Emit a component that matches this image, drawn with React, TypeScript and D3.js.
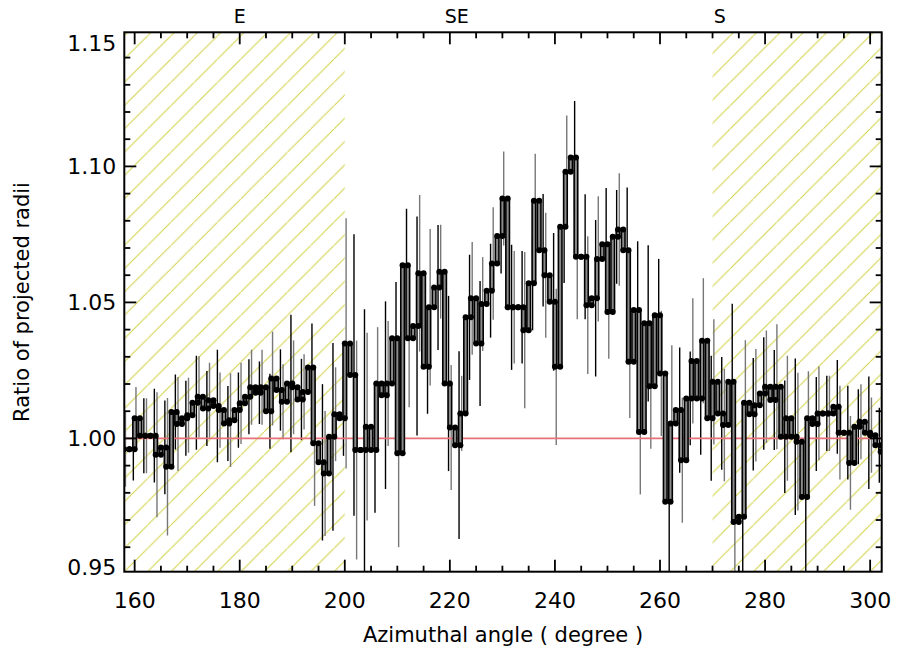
import React, { useEffect, useRef } from 'react';
import * as d3 from 'd3';

// ratio per 1-degree azimuth bin, starting at 158 deg
const binStart = 158;
const ratios = [
  0.996, 0.996, 1.0074, 1.001, 1.001, 1.001, 0.994, 0.9967, 0.9896, 1.0097, 1.0053, 1.0074,
  1.0085, 1.0131, 1.0153, 1.011, 1.014, 1.0119, 1.0104, 1.0055, 1.0067, 1.0104, 1.0129, 1.0153,
  1.0188, 1.0168, 1.0188, 1.01, 1.022, 1.0178, 1.0135, 1.0202, 1.0188, 1.0143, 1.0171, 1.0261,
  0.9982, 0.9912, 0.9871, 1.0006, 1.0089, 1.0074,
  1.0349, 1.0233, 0.9957, 0.9957, 1.0043, 0.9957, 1.0202, 1.0159, 1.0202, 1.0368, 0.9945, 1.0637,
  1.0368, 1.0413, 1.0607, 1.0263, 1.0482, 1.0555, 1.0613, 1.0202, 1.004, 0.9975, 1.0092, 1.0445,
  1.0515, 1.0349, 1.0494, 1.0543, 1.0643, 1.0744, 1.0882, 1.0482, 1.0482, 1.0482, 1.0398, 1.057,
  1.0874, 1.0692, 1.06, 1.0502, 1.0263, 1.0778, 1.098, 1.1033, 1.0668, 1.0668, 1.049, 1.0515,
  1.066, 1.0714, 1.0465, 1.0741, 1.0768, 1.0692, 1.0282, 1.0472, 1.0024, 1.0423, 1.0192, 1.0453,
  1.0239, 0.9767, 1.0055, 1.0104, 0.992, 1.0147, 1.0285, 1.0147, 1.0359, 1.0074, 1.0208, 1.0092,
  1.0049, 1.0208, 0.9693, 0.9712, 1.0131, 1.0089, 1.0122, 1.0165, 1.019, 1.0141, 1.019, 1.0006,
  1.0074, 1.0006, 0.9988, 0.9785, 1.0074, 1.0053, 1.0092, 1.0092, 1.0092, 1.0116, 1.0021, 1.0021,
  0.991, 1.0043, 1.0061, 1.0021, 1.0012, 0.9975, 0.9951,
];
const errors = [
  0.012, 0.010, 0.010, 0.012, 0.012, 0.015, 0.020, 0.015, 0.022, 0.012, 0.015, 0.012,
  0.012, 0.015, 0.013, 0.012, 0.012, 0.018, 0.012, 0.012, 0.015, 0.012, 0.013, 0.012,
  0.012, 0.010, 0.012, 0.012, 0.015, 0.013, 0.012, 0.022, 0.015, 0.013, 0.012, 0.014,
  0.020, 0.025, 0.020, 0.030, 0.015, 0.012,
  0.040, 0.045, 0.035, 0.045, 0.030, 0.020, 0.018, 0.030, 0.020, 0.018, 0.030, 0.018,
  0.022, 0.035, 0.025, 0.015, 0.025, 0.020, 0.015, 0.028, 0.020, 0.030, 0.012, 0.020,
  0.018, 0.020, 0.015, 0.015, 0.018, 0.012, 0.015, 0.020, 0.018, 0.018, 0.025, 0.015,
  0.015, 0.018, 0.020, 0.022, 0.025, 0.018, 0.018, 0.018, 0.020, 0.020, 0.022, 0.025,
  0.020, 0.018, 0.015, 0.015, 0.018, 0.020, 0.018, 0.022, 0.020, 0.025, 0.020, 0.018,
  0.020, 0.025, 0.025, 0.020, 0.020, 0.015, 0.020, 0.018, 0.020, 0.020, 0.020, 0.018,
  0.018, 0.025, 0.030, 0.025, 0.020, 0.018, 0.018, 0.018, 0.018, 0.016, 0.020, 0.018,
  0.020, 0.025, 0.022, 0.025, 0.015, 0.015, 0.015, 0.012, 0.012, 0.015, 0.015, 0.015,
  0.015, 0.012, 0.012, 0.018, 0.012, 0.012, 0.012,
];
const xTicks = [160, 180, 200, 220, 240, 260, 280, 300];
const yTicks = [0.95, 1.0, 1.05, 1.1, 1.15];
const directions = [
  { label: 'E', at: 180 },
  { label: 'SE', at: 221.3 },
  { label: 'S', at: 271.4 },
];
const hatched = [
  [158, 200],
  [270, 302.2],
];

const App = () => {
  const svgRef = useRef<SVGSVGElement>(null);

  useEffect(() => {
    const svg = d3.select(svgRef.current);
    svg.selectAll('*').remove();

    const left = 124.3, right = 881.7, top = 32.3, bottom = 571.7;
    const x = d3.scaleLinear().domain([158.03, 302.2]).range([left, right]);
    const y = d3.scaleLinear().domain([0.951, 1.1493]).range([bottom, top]);
    const font = "'DejaVu Sans', sans-serif";

    const defs = svg.append('defs');
    defs.append('clipPath').attr('id', 'plot')
      .append('rect').attr('x', left).attr('y', top)
      .attr('width', right - left).attr('height', bottom - top);
    const pat = defs.append('pattern').attr('id', 'hatch')
      .attr('patternUnits', 'userSpaceOnUse')
      .attr('width', 23.3).attr('height', 23.3)
      .attr('patternTransform', `translate(${left},${bottom})`);
    pat.append('line').attr('x1', -1).attr('y1', 24.3).attr('x2', 24.3).attr('y2', -1)
      .attr('stroke', '#d2d24a').attr('stroke-width', 1);

    const g = svg.append('g').attr('clip-path', 'url(#plot)');

    hatched.forEach(([a, b]) => {
      g.append('rect').attr('x', x(a)).attr('y', top)
        .attr('width', x(b) - x(a)).attr('height', bottom - top)
        .attr('fill', 'url(#hatch)');
    });

    // error bars
    ratios.forEach((r, i) => {
      const xc = x(binStart + i + (i % 2 ? 0.75 : 0.25));
      g.append('line').attr('x1', xc).attr('x2', xc)
        .attr('y1', y(r - errors[i] * 1.15)).attr('y2', y(r + errors[i] * 1.15))
        .attr('stroke', i % 2 ? '#000' : '#777').attr('stroke-width', 1.4);
    });

    // reference line
    g.append('line').attr('x1', left).attr('x2', right)
      .attr('y1', y(1)).attr('y2', y(1))
      .attr('stroke', '#e8707a').attr('stroke-width', 1.6);

    // step histogram: horizontal runs
    ratios.forEach((r, i) => {
      g.append('line').attr('x1', x(binStart + i)).attr('x2', x(binStart + i + 1))
        .attr('y1', y(r)).attr('y2', y(r))
        .attr('stroke', '#000').attr('stroke-width', 3.2);
    });
    // vertical risers drawn as double black edges with grey core
    ratios.forEach((r, i) => {
      if (i === 0) return;
      const xe = x(binStart + i);
      const y0 = y(ratios[i - 1]), y1 = y(r);
      const lo = Math.min(y0, y1), hi = Math.max(y0, y1);
      g.append('rect').attr('x', xe - 2.6).attr('y', lo).attr('width', 5.2).attr('height', hi - lo)
        .attr('fill', '#000');
      if (hi - lo > 4) {
        g.append('rect').attr('x', xe - 1).attr('y', lo + 2).attr('width', 2).attr('height', hi - lo - 4)
          .attr('fill', '#8a8a8a');
      }
    });
    const pts: [number, number][] = [];
    ratios.forEach((r, i) => {
      pts.push([x(binStart + i), y(r)]);
      pts.push([x(binStart + i + 1), y(r)]);
    });
    g.selectAll('circle.dot').data(pts).enter().append('circle')
      .attr('cx', d => d[0]).attr('cy', d => d[1]).attr('r', 3).attr('fill', '#000');

    // frame
    svg.append('rect').attr('x', left).attr('y', top)
      .attr('width', right - left).attr('height', bottom - top)
      .attr('fill', 'none').attr('stroke', '#000').attr('stroke-width', 2);

    const ax = svg.append('g').attr('stroke', '#000').attr('stroke-width', 1.8);
    d3.range(160, 302, 5).forEach(v => {
      const len = v % 20 === 0 ? 12 : 6;
      ax.append('line').attr('x1', x(v)).attr('x2', x(v)).attr('y1', bottom).attr('y2', bottom - len);
      ax.append('line').attr('x1', x(v)).attr('x2', x(v)).attr('y1', top).attr('y2', top + len);
    });
    d3.range(95, 115).forEach(k => {
      const v = k / 100;
      if (v < 0.951 || v > 1.1493) return;
      const len = k % 5 === 0 ? 12 : 6;
      ax.append('line').attr('x1', left).attr('x2', left + len).attr('y1', y(v)).attr('y2', y(v));
      ax.append('line').attr('x1', right).attr('x2', right - len).attr('y1', y(v)).attr('y2', y(v));
    });

    xTicks.forEach(v => {
      svg.append('text').attr('x', x(v)).attr('y', 608).attr('text-anchor', 'middle')
        .attr('font-family', font).attr('font-size', 22).text(String(v));
    });
    yTicks.forEach(v => {
      const yy = Math.min(Math.max(y(v), top + 11), bottom - 5);
      svg.append('text').attr('x', left - 8).attr('y', yy + 8).attr('text-anchor', 'end')
        .attr('font-family', font).attr('font-size', 22).text(v.toFixed(2));
    });
    directions.forEach(d => {
      svg.append('text').attr('x', x(d.at)).attr('y', 23).attr('text-anchor', 'middle')
        .attr('font-family', font).attr('font-size', 19).text(d.label);
    });
    svg.append('text').attr('x', (left + right) / 2).attr('y', 642).attr('text-anchor', 'middle')
      .attr('font-family', font).attr('font-size', 21).text('Azimuthal angle ( degree )');
    svg.append('text').attr('transform', `translate(29,${(top + bottom) / 2}) rotate(-90)`)
      .attr('text-anchor', 'middle').attr('font-family', font).attr('font-size', 21)
      .text('Ratio of projected radii');
  }, []);

  return (
    <svg ref={svgRef} width={899} height={658} viewBox="0 0 899 658"
      style={{ position: 'absolute', left: 0, top: 0, background: '#fff' }} />
  );
};

export default App;
